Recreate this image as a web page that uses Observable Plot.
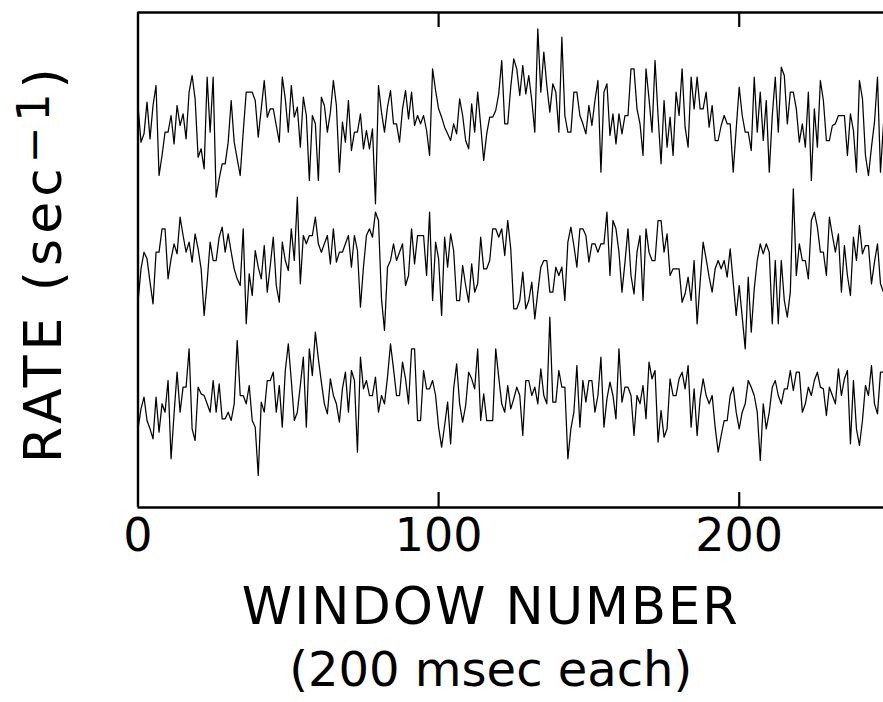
<!DOCTYPE html>
<html><head><meta charset="utf-8">
<script src="https://cdn.jsdelivr.net/npm/d3@7"></script>
<script src="https://cdn.jsdelivr.net/npm/@observablehq/plot@0.6"></script>
<style>html,body{margin:0;padding:0;background:#fff} svg{display:block}</style>
</head><body><div id="chart"></div>
<script>
// Firing rate per 200 ms window, three recordings (arbitrary rate units)
const rate1 = [
33,22,24.5,34,23,33,39,12,18,25,
25,30,21.5,33,27,30.5,23,37,42,35,
17.5,20,14,41.5,25,41.5,5.5,11,15.5,15.5,
22,34.5,22,17,12,25,37,37,37,34.5,
23.5,32,40.5,29.5,32,32,27,22,41.5,35,
25,39,29.5,32.5,20.5,35.5,30,10.5,30,27.5,
10.5,35.5,33,25,31,40.5,33,13,28,22,
34.5,19.5,25,25,30.5,20,25.5,20,26,3.5,
39,31,25,32.5,37.5,27.5,27.5,22,32,37.5,
29,37,27,30,27.5,30,25.5,18,44,37.5,
32,29.5,26.5,24.5,22.5,27.5,24.5,35,30,22.5,
20,33.5,25,37,27,16.5,24.5,29.5,29.5,31.5,
36.5,46.5,27.5,27.5,38.5,47,44,36,45,36.5,
42,34.5,25,56,37,49,39,31,39.5,37,
25,53.5,30,25,25,37,37,30,27.5,24.5,
33,27,34.5,40.5,13,37,39.5,24,30.5,21.5,
30.5,24.5,30,30,44,44,32,27.5,18,44,
35,25,46.5,30,15.5,34.5,20.5,29.5,18,37,
30,44,26.5,20.5,41.5,32,41.5,32,32,37,
26.5,33,22.5,22.5,27,30,27.5,27.5,13,26,
38.5,30,25,25,19.5,41.5,25,37,22.5,34.5,
13,30,41.5,25,44.5,42,27.5,37,37,32,
22,27.5,20.5,37,10.5,32,20.5,40.5,34.5,22.5,
22.5,27,27.5,30,30,30,18,30.5,25.5,13,
40.5,35,18,12,20.5,28,41.5,13,27.5];
const rate2 = [
14,24,29,27,20,13.5,29,29,36,36,
21,27,31.5,28.5,39.5,34,29,32,26,34.5,
30,24,10,20,32,26.5,26.5,33.5,36.5,29,
34.5,29,24,21,19,36,7.5,22.5,16,29.5,
24.5,21,31,17,25,33.5,19,14,32,26.5,
23.5,36,26.5,45.5,19.5,34,31.5,34,34,39.5,
31.5,29,31.5,34,25.5,36,26,29,29,31.5,
34,24.5,34,29.5,12.5,24.5,34,36,33.5,41,
38.5,15,5.5,24.5,26.5,31.5,26.5,29,31.5,19,
22,36,25.5,34,34,34,22,41,14.5,32,
27,10,33.5,24.5,34.5,29.5,14.5,14.5,25,19,
14,25.5,17,19.5,33.5,24,24,26.5,36,36,
33.5,36,28,38.5,30,12,12,14.5,23,12,
14.5,20,9,17,24.5,26.5,26.5,17,17,24.5,
22,24.5,14.5,32,36.5,31,24.5,36,36,34,
26,31.5,31.5,29,31.5,31.5,41,22,38.5,36,
29,17,26,36,22,16.5,29,34,14.5,36,
29,26.5,26.5,38.5,38.5,29,34.5,22,24,24,
24,14,16.5,21.5,14.5,26.5,7.5,20,32,27,
21.5,17,24,26.5,24,26.5,21.5,30,20,10,
19,9.5,0,21.5,5,18,26.5,31.5,28.5,31.5,
29,7.5,26.5,7.5,26.5,14.5,9.5,17,48,22,
31.5,26.5,26.5,21,38.5,41,36.5,29,29,22,
39.5,34,29,34.5,17,31,22,16,33.5,26.5,
37,28.5,31,31,19.5,26,31.5,19.5,17];
const rate3 = [
16,22,25.5,18.5,16,13,25.5,15,23.5,21,
30.5,7,20.5,33,21,28.5,28.5,40,16,12.5,
28.5,26.5,26,23.5,21,30.5,21,29.5,19,19,
21,18.5,23.5,42.5,26,26,23.5,29,18.5,16.5,
2,24,21,30.5,30.5,33,21,29,16.5,33.5,
41.5,30.5,18.5,21,29,37.5,16.5,40,32,45,
37,30,23.5,20.5,31,26,23.5,18,28,33,
21,33.5,30.5,9,37.5,28,30.5,26,26,31.5,
21,26,23.5,31.5,41.5,34,26,26,36,31,
23.5,40,40,18.5,18.5,33.5,28,28,30.5,26,
16.5,10.5,17,24,11.5,28,35.5,23.5,18,23,
33,31,28,40,18.5,26.5,18.5,18.5,18.5,40,
31.5,23.5,21,29,22,25,28.5,26,14,30.5,
30.5,26,28.5,23.5,34,26,23.5,49.5,24,24,
33.5,28.5,28.5,7,16,21,35,16.5,30.5,24,
30.5,30.5,21,26,37.5,16.5,25,30,26,19,
40,24,28.5,28.5,26,14,26,23.5,29,19,
36,31,33.5,12,21.5,13.5,16,31,26,26,
31,33,28,35,16.5,28,14,25,31,26,
23.5,26,16.5,9,14,18.5,18.5,26,28.5,21,
16,21,23.5,30.5,28.5,26,21,6.5,23.5,16,
21,28.5,30.5,26,23.5,28,28,33.5,27.5,33,
33,21,23.5,28.5,26,30.5,33,28.5,28,20,
28.5,26,23.5,34,26,31,33.5,11.5,30.5,16,
11,18.5,29,26,35,23.5,20.5,33,33];

// vertical stacking offset of each trace (display only)
const seriesOffset = [80, 40, 0];
const xTicks = [0, 100, 200];
const xDomain = [0, 248];
const yDomain = [-7.6, 140.9];
const xLabel = "WINDOW NUMBER";
const xSubLabel = "(200 msec each)";
const yLabelParts = ["RATE (sec", "−1", ")"];
const yLabel = yLabelParts.join("");

const data = [rate1, rate2, rate3].flatMap((s, k) =>
  s.map((r, i) => ({series: k, window: i, rate: r, v: r + seriesOffset[k]})));

const plot = Plot.plot({
  width: 883, height: 702,
  marginLeft: 137.5, marginRight: 0, marginTop: 12, marginBottom: 195,
  style: {fontFamily: "'DejaVu Sans', sans-serif", background: "white", color: "black"},
  x: {domain: xDomain},
  y: {domain: yDomain, axis: null},
  marks: [
    Plot.line(data, {x: "window", y: "v", z: "series", stroke: "black", strokeWidth: 1.25}),
    Plot.ruleX([xTicks[0]], {stroke: "black", strokeWidth: 2.4}),
    Plot.ruleY(yDomain, {stroke: "black", strokeWidth: 2.4}),
    Plot.ruleX(xTicks.slice(1), {insetTop: 480, stroke: "black", strokeWidth: 2.2}),
    Plot.ruleX(xTicks.slice(1), {insetBottom: 480, stroke: "black", strokeWidth: 2.2}),
    Plot.axisX(xTicks, {tickSize: 0, tickPadding: 11, fontSize: 46, label: null, fill: "black"}),
    Plot.text([xLabel], {text: d => d, frameAnchor: "bottom", dx: -20, dy: 116, lineAnchor: "bottom", fontSize: 51, fill: "black"}),
    Plot.text([xSubLabel], {text: d => d, frameAnchor: "bottom", dx: -20, dy: 178, lineAnchor: "bottom", fontSize: 48, fill: "black"}),
    Plot.text([yLabel], {text: d => d, frameAnchor: "left", rotate: -90, dx: -77.5, dy: 3, lineAnchor: "bottom", textAnchor: "middle", fontSize: 52, fill: "black"})
  ]
});

d3.select(plot).selectAll("text").each(function () {
  const t = d3.select(this);
  if (this.textContent === yLabel) {
    this.textContent = "";
    t.append("tspan").text(yLabelParts[0]);
    t.append("tspan").attr("font-size", 44).attr("dy", -12).text(yLabelParts[1]);
    t.append("tspan").attr("dy", 12).text(yLabelParts[2]);
    t.style("letter-spacing", "5px");
  } else if (this.textContent === xLabel) {
    t.style("letter-spacing", "2px");
  }
});

document.getElementById("chart").appendChild(plot);
</script>
</body></html>
